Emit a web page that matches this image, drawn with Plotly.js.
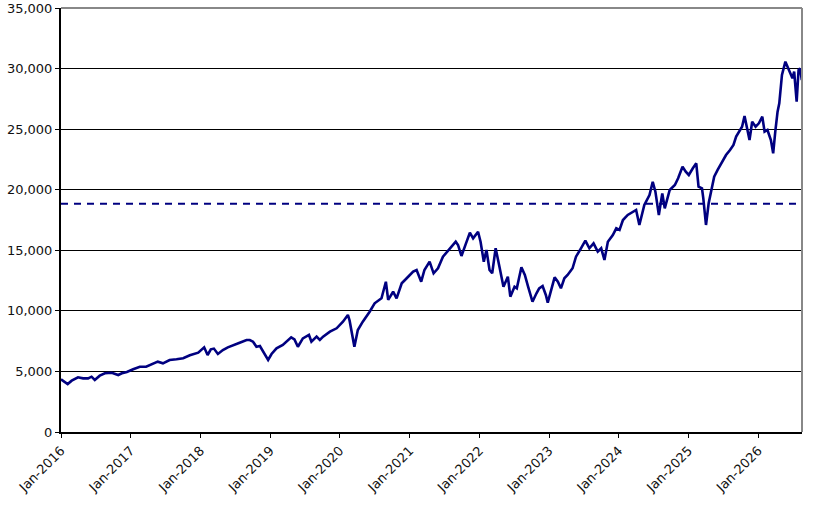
<!DOCTYPE html>
<html>
<head>
<meta charset="utf-8">
<script src="https://cdn.plot.ly/plotly-3.0.1.min.js"></script>
<style>
  html, body { margin: 0; padding: 0; background: #fff; }
  #chart { width: 827px; height: 511px; }
</style>
</head>
<body>
<div id="chart"></div>
<script>
// Index level (approximate samples)
const dates = [
  "2016-01-01","2016-01-12","2016-02-05","2016-02-26","2016-03-30","2016-04-26","2016-05-22","2016-06-09","2016-06-26","2016-07-22","2016-08-18","2016-09-23","2016-10-27","2016-11-15","2016-12-11",
  "2017-01-13","2017-02-17","2017-03-22","2017-04-18","2017-05-22","2017-06-18","2017-07-23","2017-08-28","2017-10-02","2017-11-06","2017-12-20",
  "2018-01-20","2018-02-07","2018-02-24","2018-03-12","2018-04-02","2018-04-28","2018-05-24","2018-06-28","2018-07-25","2018-08-30","2018-09-16","2018-10-03","2018-10-21","2018-11-08","2018-11-25","2018-12-21",
  "2019-01-08","2019-02-03","2019-03-08","2019-04-21","2019-05-08","2019-05-26","2019-06-21","2019-07-23","2019-08-05","2019-09-01","2019-09-18","2019-10-05","2019-11-10","2019-12-15",
  "2020-01-17","2020-02-12","2020-02-21","2020-03-17","2020-04-04","2020-04-30","2020-06-05","2020-07-01","2020-08-06","2020-08-29","2020-09-10","2020-10-06","2020-10-24","2020-11-20","2020-12-16",
  "2021-01-19","2021-02-06","2021-03-02","2021-03-19","2021-04-15","2021-05-06","2021-05-29","2021-06-24","2021-07-08","2021-07-29","2021-08-30","2021-09-11","2021-09-29","2021-10-26","2021-11-12","2021-11-29","2021-12-25",
  "2022-01-07","2022-01-24","2022-02-07","2022-02-23","2022-03-09","2022-03-27","2022-04-16","2022-05-07","2022-05-30","2022-06-12","2022-07-04","2022-07-16","2022-08-09","2022-08-27","2022-09-13","2022-10-06","2022-10-27","2022-11-10","2022-11-28","2022-12-15","2022-12-25",
  "2023-01-12","2023-01-30","2023-02-16","2023-03-04","2023-03-22","2023-04-08","2023-05-04","2023-05-22","2023-06-17","2023-07-10","2023-07-31","2023-08-22","2023-09-13","2023-10-01","2023-10-18","2023-11-05","2023-12-01","2023-12-19",
  "2024-01-05","2024-01-23","2024-02-17","2024-03-14","2024-04-01","2024-04-18","2024-05-14","2024-06-10","2024-06-27","2024-07-11","2024-07-29","2024-08-16","2024-08-29","2024-09-24","2024-10-21","2024-11-07","2024-11-30","2024-12-17",
  "2025-01-02","2025-01-23","2025-02-10","2025-02-22","2025-03-12","2025-03-19","2025-04-02","2025-04-16","2025-04-28","2025-05-15","2025-06-02","2025-06-25","2025-07-16","2025-08-06","2025-08-24","2025-09-07","2025-09-24","2025-10-08","2025-10-21","2025-11-02","2025-11-16","2025-11-30","2025-12-18",
  "2026-01-04","2026-01-22","2026-02-03","2026-02-18","2026-03-08","2026-03-20","2026-03-31","2026-04-12","2026-04-21","2026-05-05","2026-05-23","2026-06-04","2026-06-16","2026-06-29","2026-07-08","2026-07-21","2026-07-31","2026-08-08","2026-08-17"
];
const values = [
  4350,4235,3960,4235,4515,4430,4430,4565,4290,4650,4845,4895,4705,4845,4953,
  5175,5390,5390,5555,5805,5670,5945,6000,6085,6330,6545,
  6990,6355,6825,6885,6440,6770,6990,7180,7370,7595,7595,7455,7040,7100,6630,5945,
  6440,6910,7180,7815,7650,7040,7730,8010,7455,7870,7595,7870,8280,8560,
  9105,9660,9190,7040,8420,9105,9930,10625,11035,12405,10900,11580,11035,12275,12690,
  13235,13375,12405,13375,14060,13100,13515,14470,14750,15165,15710,15440,14530,15710,16450,15990,16535,
  15710,14060,15025,13375,13100,15165,13650,11995,12820,11170,11995,11860,13595,12960,11995,10755,11450,11860,12050,11310,10675,
  11720,12770,12405,11860,12690,12960,13515,14470,15165,15795,15165,15575,14885,15165,14200,15710,16260,16815,
  16675,17500,17915,18190,18330,17090,18740,19565,20660,19840,17915,19700,18465,19975,20390,20940,21900,21490,
  21215,21770,22180,20250,20115,19290,17090,18880,19840,21075,21630,22315,22865,23280,23690,24380,24790,25200,26085,25200,24105,25615,25200,
  25480,26030,24790,24930,24105,23005,24790,26440,27135,29470,30570,30155,29610,29200,29745,27270,29885,30020,29060
];
// Horizontal reference level (dashed)
const refLevel = 18850;
const refDates = ["2016-01-01", "2026-08-14"];

// Axis ticks
const tickDates = ["2016-01-01","2017-01-01","2018-01-01","2019-01-01","2020-01-01","2021-01-01","2022-01-01","2023-01-01","2024-01-01","2025-01-01","2026-01-01"];
const tickLabels = ["Jan-2016","Jan-2017","Jan-2018","Jan-2019","Jan-2020","Jan-2021","Jan-2022","Jan-2023","Jan-2024","Jan-2025","Jan-2026"];
const yTicks = [0,5000,10000,15000,20000,25000,30000,35000];
const yTickLabels = ["0","5,000","10,000","15,000","20,000","25,000","30,000","35,000"];

const navy = "#000080";
const font = { family: "DejaVu Sans, Verdana, sans-serif", size: 13, color: "#111" };

const traces = [
  {
    x: refDates, y: refDates.map(() => refLevel),
    type: "scatter", mode: "lines",
    line: { color: navy, width: 2, dash: "7px,6px" },
    hoverinfo: "skip", showlegend: false
  },
  {
    x: dates, y: values,
    type: "scatter", mode: "lines",
    line: { color: navy, width: 2.6 },
    showlegend: false
  }
];

const layout = {
  width: 827, height: 511,
  margin: { l: 61, r: 25, t: 8, b: 79 },
  paper_bgcolor: "#fff", plot_bgcolor: "#fff",
  font: font,
  showlegend: false,
  xaxis: {
    type: "date",
    range: ["2016-01-01", "2026-08-18"],
    tickmode: "array", tickvals: tickDates, ticktext: tickLabels,
    tickangle: -45,
    ticks: "outside", ticklen: 4, tickcolor: "#000", tickwidth: 1,
    showgrid: false, zeroline: false,
    showline: true, linecolor: "#000", linewidth: 2,
    tickfont: font
  },
  yaxis: {
    range: [0, 35000],
    tickmode: "array", tickvals: yTicks, ticktext: yTickLabels,
    ticks: "outside", ticklen: 4, tickcolor: "#000", tickwidth: 1,
    showgrid: true, gridcolor: "#000", gridwidth: 1,
    zeroline: false,
    showline: true, linecolor: "#000", linewidth: 2,
    tickfont: font
  },
  shapes: [
    { type: "line", xref: "paper", yref: "paper", x0: 0, x1: 1, y0: 1, y1: 1, line: { color: "#888", width: 2 }, layer: "above" },
    { type: "line", xref: "paper", yref: "paper", x0: 1, x1: 1, y0: 0, y1: 1, line: { color: "#888", width: 2 }, layer: "above" }
  ]
};

Plotly.newPlot("chart", traces, layout, { staticPlot: true, displayModeBar: false });
</script>
</body>
</html>
